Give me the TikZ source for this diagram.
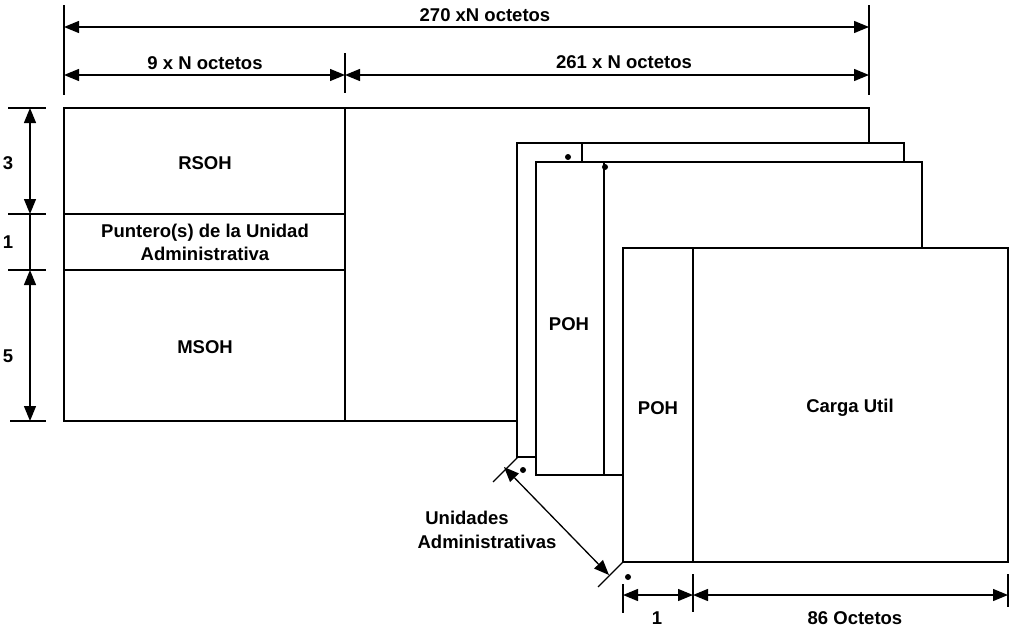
\documentclass[tikz,border=0pt]{standalone}
\usepackage{fontspec}
\setmainfont{Liberation Sans}
\usetikzlibrary{arrows.meta}
\begin{document}
\begin{tikzpicture}[x=1pt,y=-1pt,
  line width=1.5pt,
  frame/.style={draw=black,fill=white,line width=1.5pt},
  dim/.style={line width=1.3pt,{Triangle[length=15pt,width=12pt]}-{Triangle[length=15pt,width=12pt]}},
  tick/.style={line width=1.3pt},
  lbl/.style={font=\fontsize{18.5}{21}\selectfont\bfseries,inner sep=0pt,align=center},
  dotm/.style={circle,fill=black,inner sep=0pt,minimum size=6pt}]
\useasboundingbox (0,0) rectangle (1015,629);
% top dimensions
\coordinate (tL) at (64,27); \coordinate (tR) at (869,27);
\coordinate (sL) at (64,75); \coordinate (sM) at (345,75); \coordinate (sR) at (869,75);
\draw[tick] (64,5) -- (64,95);
\draw[tick] (869,5) -- (869,95);
\draw[tick] (345,53) -- (345,93);
\draw[dim] (tL) -- (tR);
\draw[dim] (sL) -- (sM);
\draw[dim] (sM) -- (sR);
\node[lbl] (t270) at (485,15) {270 xN octetos};
\node[lbl] (t9) at (205,63) {9 x N octetos};
\node[lbl] (t261) at (624,62) {261 x N octetos};
% main frame (STM)
\draw[frame] (64,108) rectangle (869,421);
\draw (345,108) -- (345,421);
\draw (64,214) -- (345,214);
\draw (64,270) -- (345,270);
\node[lbl] (rsoh) at (205,163) {RSOH};
\node[lbl] (ptr) at (205,242) {Puntero(s) de la Unidad\\[2pt]Administrativa};
\node[lbl] (msoh) at (205,347) {MSOH};
% left dimensions
\draw[tick] (8,108) -- (46,108);
\draw[tick] (8,214) -- (46,214);
\draw[tick] (8,270) -- (46,270);
\draw[tick] (10,421) -- (46,421);
\coordinate (l1) at (30,108); \coordinate (l2) at (30,214);
\coordinate (l3) at (30,270); \coordinate (l4) at (30,421);
\draw[dim] (l1) -- (l2);
\draw[tick] (l2) -- (l3);
\draw[dim] (l3) -- (l4);
\node[lbl] (n3) at (8,163) {3};
\node[lbl] (n1) at (8,242) {1};
\node[lbl] (n5) at (8,356) {5};
% AU frame 1
\draw[frame] (517,143) rectangle (904,457);
\draw (582,143) -- (582,162);
\node[dotm] (d1) at (568,157) {};
% AU frame 2
\draw[frame] (536,162) rectangle (922,475);
\draw (604,162) -- (604,475);
\node[dotm] (d2) at (605,167) {};
\node[lbl] (poh1) at (569,324) {POH};
% AU frame 3
\draw[frame] (623,248) rectangle (1008,562);
\draw (693,248) -- (693,562);
\node[lbl] (poh2) at (658,408) {POH};
\node[lbl] (carga) at (850,408) {Carga Util};
\node[dotm] (d3) at (628,577) {};
\node[dotm] (d4) at (523,470) {};
% diagonal dimension
\coordinate (c1) at (518,457); \coordinate (c1b) at (493,482);
\coordinate (c2) at (623,562); \coordinate (c2b) at (598,587);
\draw[tick] (c1) -- (c1b);
\draw[tick] (c2) -- (c2b);
\coordinate (a1) at (504,467); \coordinate (a2) at (609,575);
\draw[dim] (a1) -- (a2);
\node[lbl] (ua) at (467,518) {Unidades};
\node[lbl] (ub) at (487,542) {Administrativas};
% bottom dimensions
\draw[tick] (623,584) -- (623,613);
\draw[tick] (693,574) -- (693,612);
\draw[tick] (1008,574) -- (1008,607);
\coordinate (b1) at (623,595); \coordinate (b2) at (693,595); \coordinate (b3) at (1008,595);
\draw[dim] (b1) -- (b2);
\draw[dim] (b2) -- (b3);
\node[lbl] (bn1) at (657,618) {1};
\node[lbl] (b86) at (855,618) {86 Octetos};
\end{tikzpicture}
\end{document}
